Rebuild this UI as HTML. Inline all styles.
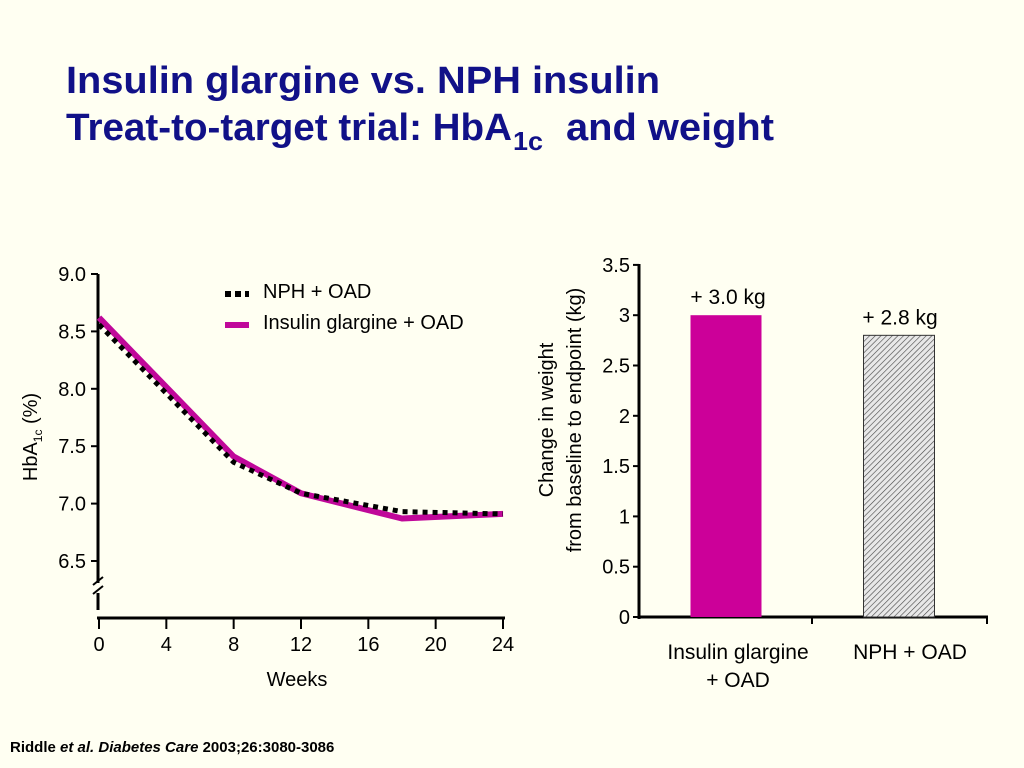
<!DOCTYPE html>
<html><head><meta charset="utf-8"><style>
html,body{margin:0;padding:0;background:#fffff2;}
svg{display:block;font-family:"Liberation Sans",Arial,sans-serif;}
</style></head><body>
<svg id="root" width="1024" height="768" viewBox="0 0 1024 768">
<defs>
<pattern id="hatch" width="4" height="4" patternUnits="userSpaceOnUse" patternTransform="rotate(45)">
<rect width="4" height="4" fill="#e8e8e8"/><line x1="0" y1="0" x2="0" y2="4" stroke="#444" stroke-width="1.2"/>
</pattern>
</defs>
<rect width="1024" height="768" fill="#fffff2"/>
<g fill="#111188" font-weight="bold" font-size="38">
<text x="66" y="93" textLength="594" lengthAdjust="spacingAndGlyphs">Insulin glargine vs. NPH insulin</text>
<text x="66" y="140" textLength="446" lengthAdjust="spacingAndGlyphs">Treat-to-target trial: HbA</text>
<text x="513" y="150" font-size="26" textLength="30" lengthAdjust="spacingAndGlyphs">1c</text>
<text x="566" y="140" textLength="208" lengthAdjust="spacingAndGlyphs">and weight</text>
</g>
<g id="left"></g>
<g id="right"></g>
<text x="10" y="752" font-size="15" font-weight="bold">Riddle <tspan font-style="italic">et al. Diabetes Care</tspan> 2003;26:3080-3086</text>
</svg>
<script>
const weeks=[0,8,12,18,24];
const glargine=[8.62,7.41,7.09,6.87,6.91];
const nph=[8.56,7.36,7.09,6.93,6.91];
const yTicks=[9.0,8.5,8.0,7.5,7.0,6.5];
const xTicks=[0,4,8,12,16,20,24];
const barCats=["Insulin glargine|+ OAD","NPH + OAD"];
const barVals=[3.0,2.8];
const barLabels=["+ 3.0 kg","+ 2.8 kg"];
const wTicks=[0,0.5,1,1.5,2,2.5,3,3.5];

const NS="http://www.w3.org/2000/svg";
function mk(p,t,a,txt){const e=document.createElementNS(NS,t);for(const k in a)e.setAttribute(k,a[k]);if(txt!=null)e.textContent=txt;p.appendChild(e);return e;}
const L=document.getElementById('left');
const lx=w=>99+w*(404/24);
const ly=v=>274+(9.0-v)*114.8;
mk(L,'line',{x1:98,y1:274,x2:98,y2:583,stroke:'#000','stroke-width':3});
mk(L,'line',{x1:98,y1:593,x2:98,y2:610,stroke:'#000','stroke-width':3});
mk(L,'line',{x1:93,y1:585,x2:103,y2:577,stroke:'#000','stroke-width':2});
mk(L,'line',{x1:93,y1:594,x2:103,y2:586,stroke:'#000','stroke-width':2});
mk(L,'line',{x1:97,y1:618,x2:505,y2:618,stroke:'#000','stroke-width':3});
yTicks.forEach(v=>{
 const t=mk(L,'line',{x1:91,y1:ly(v),x2:98,y2:ly(v),stroke:'#000','stroke-width':2});
 
 const l=mk(L,'text',{x:86,y:ly(v)+7,'font-size':20,'text-anchor':'end'},v.toFixed(1));
 
});
xTicks.forEach(w=>{
 const t=mk(L,'line',{x1:lx(w),y1:618,x2:lx(w),y2:629,stroke:'#000','stroke-width':2});
 
 const l=mk(L,'text',{x:lx(w),y:651,'font-size':20,'text-anchor':'middle'},String(w));
 
});
const xt=mk(L,'text',{x:297,y:686,'font-size':20,'text-anchor':'middle'},'Weeks');

const yt=mk(L,'text',{transform:'translate(37,437) rotate(-90)','font-size':20,'text-anchor':'middle'});

yt.innerHTML='HbA<tspan font-size="12" dy="5">1c</tspan><tspan dy="-5"> (%)</tspan>';
const pts=a=>weeks.map((w,i)=>lx(w)+','+ly(a[i])).join(' ');
const g1=mk(L,'polyline',{points:pts(glargine),fill:'none',stroke:'#c0089a','stroke-width':6,'stroke-linejoin':'round'});

const n1=mk(L,'polyline',{points:pts(nph),fill:'none',stroke:'#000','stroke-width':5,'stroke-dasharray':'5 5'});

const le1=mk(L,'g',{});
mk(le1,'line',{x1:225,y1:294,x2:249,y2:294,stroke:'#000','stroke-width':6,'stroke-dasharray':'6 4'});
mk(le1,'text',{x:263,y:298,'font-size':20},'NPH + OAD');
const le2=mk(L,'g',{});
mk(le2,'line',{x1:225,y1:325,x2:249,y2:325,stroke:'#c0089a','stroke-width':6});
mk(le2,'text',{x:263,y:329,'font-size':20},'Insulin glargine + OAD');

const R=document.getElementById('right');
const ry=v=>617-v*100.6;
const bx=[726,899];
mk(R,'line',{x1:639,y1:264,x2:639,y2:619,stroke:'#000','stroke-width':3});
mk(R,'line',{x1:638,y1:617,x2:988,y2:617,stroke:'#000','stroke-width':3});
[812,987].forEach(x=>mk(R,'line',{x1:x,y1:617,x2:x,y2:624,stroke:'#000','stroke-width':2}));
wTicks.forEach(v=>{
 const t=mk(R,'line',{x1:633,y1:ry(v),x2:639,y2:ry(v),stroke:'#000','stroke-width':2});
 
 const l=mk(R,'text',{x:630,y:ry(v)+7,'font-size':20,'text-anchor':'end'},String(v));
 
});
const rt=mk(R,'text',{transform:'translate(553,420) rotate(-90)','font-size':20,'text-anchor':'middle'});

rt.innerHTML='<tspan x="0" dy="0">Change in weight</tspan><tspan x="0" dy="28">from baseline to endpoint (kg)</tspan>';
barVals.forEach((v,i)=>{
 const b=mk(R,'rect',{x:bx[i]-35.5,y:ry(v),width:71,height:617-ry(v),fill:i?'url(#hatch)':'#cc0099',stroke:i?'#333':'none','stroke-width':1});
 
 const l=mk(R,'text',{x:bx[i]+(i?1:2),y:ry(v)-11,'font-size':21,'text-anchor':'middle'},barLabels[i]);
 
 const parts=barCats[i].split('|');
 parts.forEach((p,j)=>{
  const c=mk(R,'text',{x:i?910:738,y:659+j*28,'font-size':21,'text-anchor':'middle'},p);
  
 });
});
</script>
</body></html>
